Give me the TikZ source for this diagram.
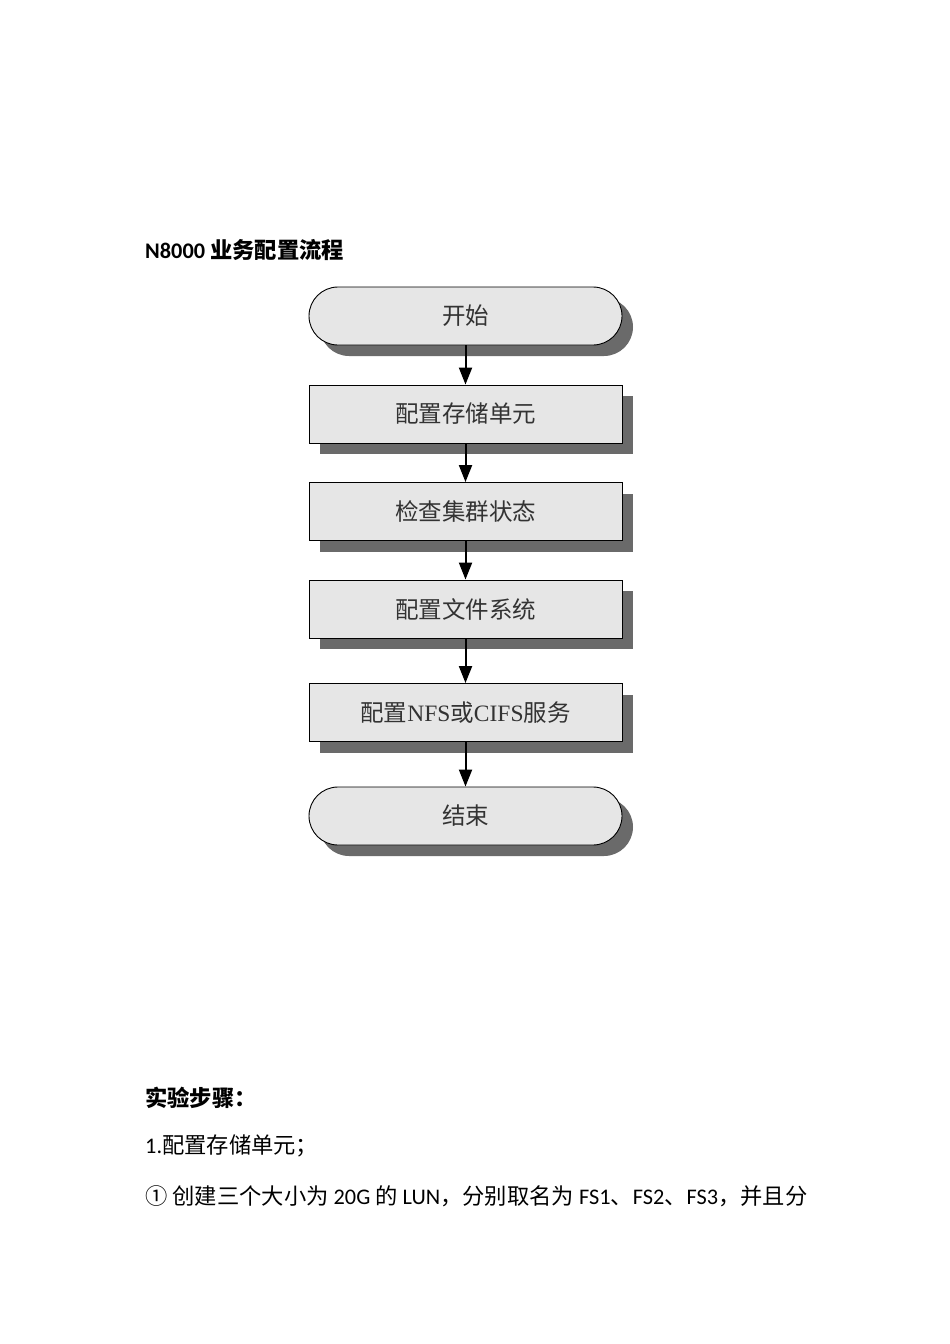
\documentclass[tikz,border=0pt]{standalone}
\usepackage{fontspec}
\setmainfont{Carlito}
\newfontfamily\cjk{Noto Sans CJK SC}
\newfontfamily\serifL{Liberation Serif}
\usetikzlibrary{shadows,arrows.meta}
\definecolor{boxfill}{HTML}{E6E6E6}
\definecolor{shadegray}{HTML}{6A6A6A}
\definecolor{boxtext}{HTML}{333333}
\begin{document}
\begin{tikzpicture}[x=1pt,y=-1pt,
  procbox/.style={draw=black, line width=0.9pt, fill=boxfill, minimum width=313pt, minimum height=58pt, inner sep=0pt, text=boxtext, font=\fontsize{23.5}{26}\cjk,
    drop shadow={shadow xshift=11pt, shadow yshift=-11pt, fill=shadegray, opacity=1}},
  termbox/.style={procbox, rounded corners=29pt},
  flow/.style={-{Triangle[length=17pt,width=13pt]}, line width=2pt},
  bodytext/.style={anchor=base west, inner sep=0pt, font=\fontsize{22.3}{26}\selectfont}]
\path[use as bounding box, fill=white] (0,0) rectangle (950,1344);

\node[bodytext, font=\bfseries\fontsize{22.3}{26}\selectfont] (title) at (145,258) {N8000 {\cjk 业务配置流程}};

\node[termbox] (start) at (465.5,316) {开始};
\node[procbox] (b1) at (465.5,414) {配置存储单元};
\node[procbox] (b2) at (465.5,511.5) {检查集群状态};
\node[procbox] (b3) at (465.5,609) {配置文件系统};
\node[procbox] (b4) at (465.5,712.5) {配置{\serifL NFS}或{\serifL CIFS}服务};
\node[termbox] (end) at (465.5,816) {结束};

\draw[flow] (start) -- (b1);
\draw[flow] (b1) -- (b2);
\draw[flow] (b2) -- (b3);
\draw[flow] (b3) -- (b4);
\draw[flow] (b4) -- (end);

\node[bodytext, font=\bfseries\fontsize{22.3}{26}\selectfont] (steps) at (145,1106) {{\cjk 实验步骤：}};
\node[bodytext] (s1) at (145,1153) {1.{\cjk 配置存储单元；}};
\node[bodytext] (s2) at (145,1204) {{\cjk ①} {\cjk 创建三个大小为} 20G {\cjk 的} LUN{\cjk ，分别取名为} FS1{\cjk 、}FS2{\cjk 、}FS3{\cjk ，并且分}};
\end{tikzpicture}
\end{document}
